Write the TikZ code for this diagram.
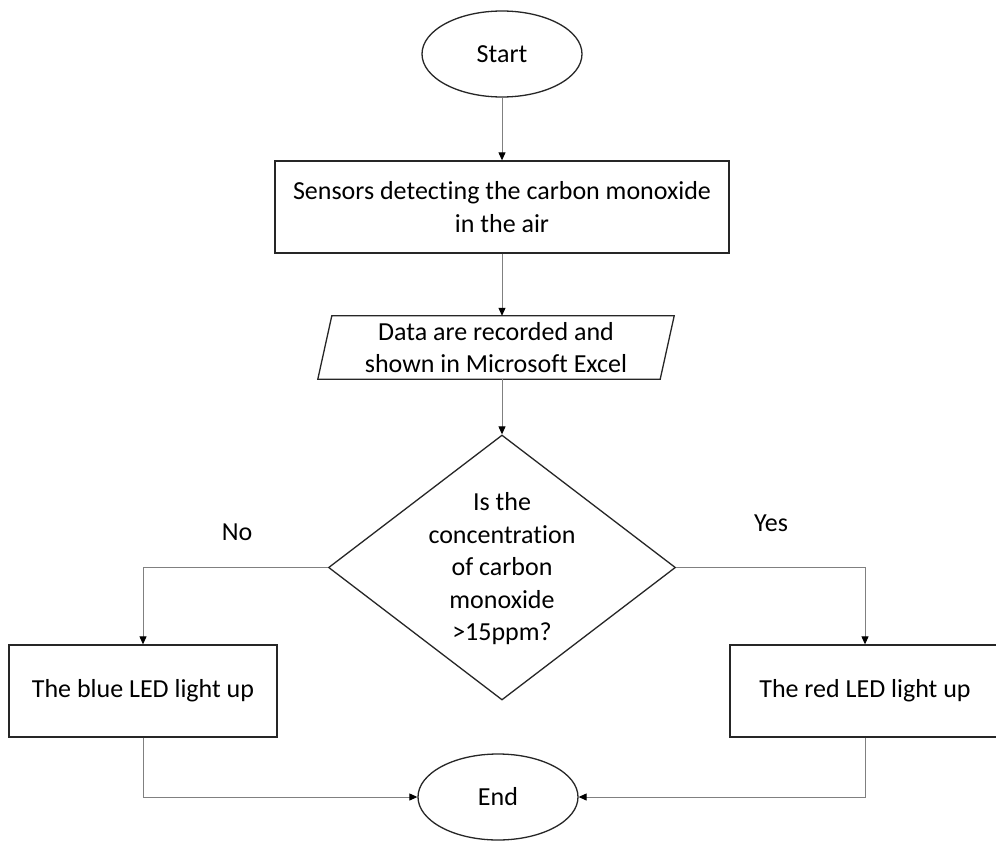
\documentclass[tikz,border=0pt]{standalone}
\usepackage{fontspec}
\setmainfont{Carlito}[Ligatures=NoCommon]
\usetikzlibrary{shapes.geometric,arrows.meta}
\begin{document}
\begin{tikzpicture}[x=1pt,y=-1pt,
  every node/.style={font=\fontsize{26}{32.5}\selectfont, inner sep=0pt},
  outline/.style={draw=black!85, line width=1.3pt},
  terminal/.style={outline, ellipse, minimum width=160pt, minimum height=86pt},
  procbox/.style={outline, rectangle, align=center},
  conn/.style={draw=black!50, line width=1pt, -{Triangle[length=8pt,width=7pt,fill=black,color=black]}},
  lbl/.style={}
]
\useasboundingbox (0,0) rectangle (996,843);
\fill[white] (0,0) rectangle (996,843);

\node[terminal] (start) at (502,54) {Start};
\node[procbox, minimum width=454pt, minimum height=92pt] (sense) at (502,207)
  {Sensors detecting the carbon monoxide\\in the air};
\node[align=center, minimum width=342pt, minimum height=63pt] (data) at (496,347.5)
  {Data are recorded and\\shown in Microsoft Excel};
\draw[outline] ([xshift=7pt]data.north west) -- ([xshift=7pt]data.north east)
  -- ([xshift=-7pt]data.south east) -- ([xshift=-7pt]data.south west) -- cycle;
\node[outline, diamond, minimum width=347pt, minimum height=265pt] (dec) at (502,567.5) {};
\node[align=center] (dectext) at (502,569)
  {Is the\\concentration\\of carbon\\monoxide\\>15ppm?};
\node[procbox, minimum width=268pt, minimum height=92pt] (blue) at (143,691) {The blue LED light up};
\node[procbox, minimum width=270pt, minimum height=92pt] (red) at (865,691) {The red LED light up};
\node[terminal] (end) at (498,797) {End};
\node[lbl] (no) at (237,532) {No};
\node[lbl] (yes) at (771,523) {Yes};

\draw[conn] (start.south) -- (sense.north);
\draw[conn] (sense.south) -- (sense.south |- data.north);
\draw[conn] (dec.north |- data.south) -- (dec.north);
\draw[conn] (dec.west) -| (blue.north);
\draw[conn] (dec.east) -| (red.north);
\draw[conn] (blue.south) |- (end.west);
\draw[conn] (red.south) |- (end.east);
\end{tikzpicture}
\end{document}
